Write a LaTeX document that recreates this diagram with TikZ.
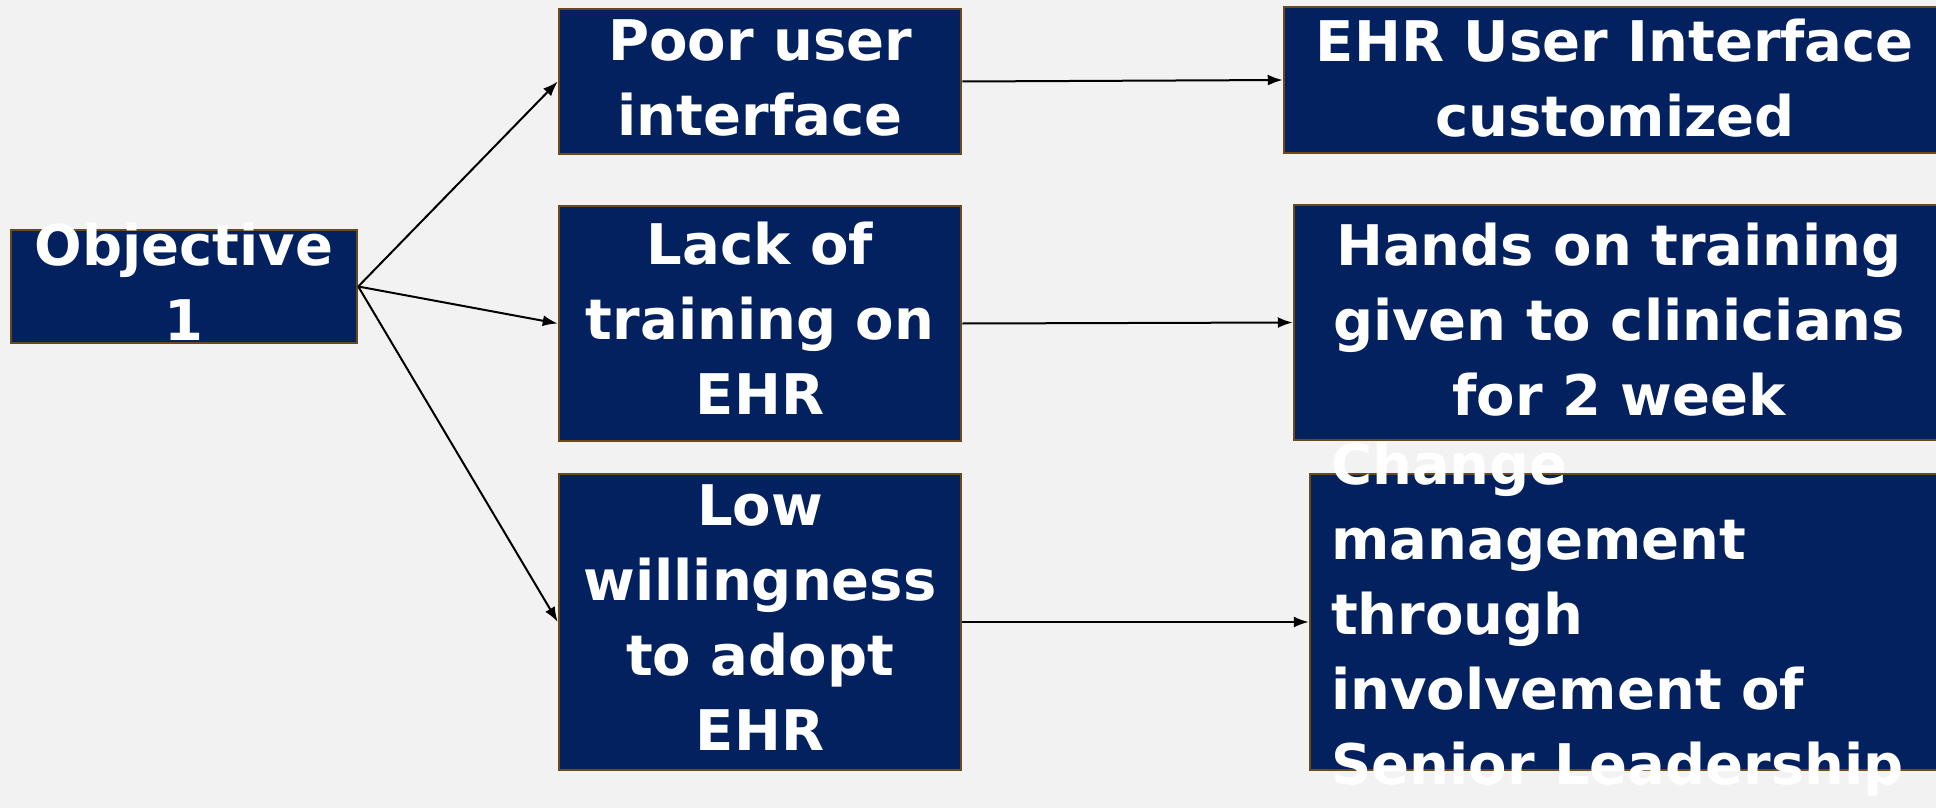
\documentclass[tikz,border=0pt]{standalone}
\usepackage{fontspec}
\setmainfont{DejaVu Sans}
\usetikzlibrary{arrows.meta}
\definecolor{bgc}{HTML}{F2F2F2}
\definecolor{navy}{HTML}{03215F}
\definecolor{brownb}{HTML}{6B4A1A}
\begin{document}
\begin{tikzpicture}[x=1pt,y=-1pt,
 box/.style={draw=brownb, fill=navy, line width=2.5pt, rectangle, inner sep=0pt},
 lbl/.style={text=white, font=\bfseries\fontsize{56}{75}\selectfont, align=center, inner sep=0pt},
 arr/.style={-{Latex[length=15pt,width=11pt]}, line width=2pt, black}]
\fill[bgc] (0,0) rectangle (1936,808);
\useasboundingbox (0,0) rectangle (1936,808);
% boxes
\node[box, minimum width=346pt, minimum height=113pt] (obj) at (184,286.5) {};
\node[box, minimum width=402pt, minimum height=145pt] (poor) at (760,81.5) {};
\node[box, minimum width=402pt, minimum height=235pt] (lack) at (760,323.5) {};
\node[box, minimum width=402pt, minimum height=296pt] (low) at (760,622) {};
\node[box, minimum width=676pt, minimum height=146pt] (ehr) at (1622,80) {};
\node[box, minimum width=666pt, minimum height=235pt] (hands) at (1627,322.5) {};
\node[box, minimum width=650pt, minimum height=296pt] (chg) at (1635,622) {};
% texts
\node[lbl] (tobj) at (184,282) {Objective\\1};
\node[lbl] (tpoor) at (760,78) {Poor user\\interface};
\node[lbl] (tlack) at (760,318) {Lack of\\training on\\EHR};
\node[lbl] (tlow) at (760,618) {Low\\willingness\\to adopt\\EHR};
\node[lbl] (tehr) at (1615,78) {EHR User Interface\\customized};
\node[lbl] (thands) at (1619,320) {Hands on training\\given to clinicians\\for 2 week};
\node[lbl, align=left, anchor=west] (tchg) at (1331,619) {Change\\management\\through\\involvement of\\Senior Leadership};
% connectors
\draw[arr] (obj.east) -- (poor.west);
\draw[arr] (obj.east) -- (lack.west);
\draw[arr] (obj.east) -- (low.west);
\draw[arr] (poor.east) -- (ehr.west);
\draw[arr] (lack.east) -- (hands.west);
\draw[arr] (low.east) -- (chg.west);
\end{tikzpicture}
\end{document}
